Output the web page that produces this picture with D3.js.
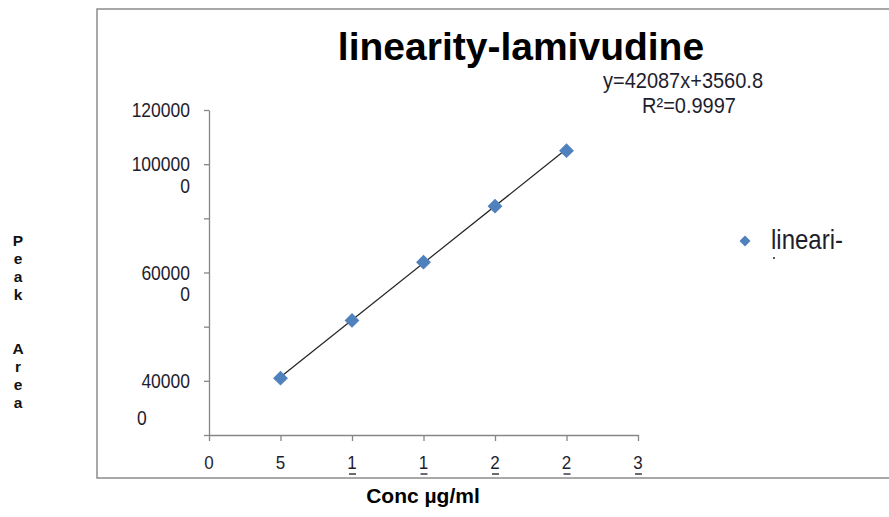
<!DOCTYPE html>
<html>
<head>
<meta charset="utf-8">
<script src="https://cdn.jsdelivr.net/npm/d3@7"></script>
<style>
    body { margin: 0; background: #fff; }
    svg { display: block; }
    text { font-family: "Liberation Sans", Arial, sans-serif; }
</style>
</head>
<body>
<svg id="chart" width="889" height="517"></svg>
<script>
// values
var concValues = [5, 10, 15, 20, 25];
var areaValues = [210000, 423000, 638000, 845000, 1050000];
var slope = 42087;
var intercept = 3560.8;

// axis ticks as the original chart printed them (labels got wrapped / clipped)
var xTickValues = [0, 5, 10, 15, 20, 25, 30];
var yTickValues = [1200000, 1000000, 800000, 600000, 400000, 200000, 0];
var yTickLines = [["120000"], ["100000", "0"], [], ["60000", "0"], [], ["40000", "0"], []];

var titleText = "linearity-lamivudine";
var equationText = "y=42087x+3560.8";
var rSquaredText = "R\u00b2=0.9997";
var legendText = "lineari-";
var xTitle = "Conc \u00b5g/ml";
var yTitle = "Peak  Area";

function initChart() {
    var svg = d3.select("#chart");
    var markerColor = "#4f81bd";
    var axisColor = "#868686";
    var labelColor = "#1e1e2e";
    var stretch = 1.12; // the source picture's text is a bit taller than wide

    var x = d3.scaleLinear().domain([0, 30]).range([209, 638]);
    var y = d3.scaleLinear().domain([0, 1200000]).range([435, 110]);

    function tallText(px, py, str, size, anchor) {
        return svg.append("text")
            .attr("transform", "translate(" + px + "," + py + ") scale(1," + stretch + ")")
            .attr("text-anchor", anchor)
            .attr("font-size", size)
            .attr("fill", labelColor)
            .text(str);
    }

    // outer chart frame, runs off the right edge
    svg.append("rect")
        .attr("x", 97).attr("y", 9)
        .attr("width", 820).attr("height", 469)
        .attr("fill", "#fff")
        .attr("stroke", "#8c8c8c")
        .attr("stroke-width", 1.5);

    svg.append("text")
        .attr("x", 521).attr("y", 60)
        .attr("text-anchor", "middle")
        .attr("font-size", 39)
        .attr("font-weight", "bold")
        .attr("fill", "#000")
        .text(titleText);

    // y axis
    var yAxis = svg.append("g")
        .attr("transform", "translate(" + x(0) + ",0)")
        .call(d3.axisLeft(y).tickValues(yTickValues).tickSize(5).tickSizeOuter(0).tickFormat(""));
    yAxis.selectAll("path, line").attr("stroke", axisColor).attr("stroke-width", 1.3);

    // the wrapped labels, first line sits on the tick
    var lineGap = [0, 22, 0, 21, 0, 37, 0];
    yTickValues.forEach(function (v, i) {
        yTickLines[i].forEach(function (t, j) {
            var left = (i === 5 && j === 1);
            tallText(left ? 137 : 190, y(v) + 7 + j * lineGap[i], t, 17.5, left ? "start" : "end");
        });
    });

    // x axis
    var xAxis = svg.append("g")
        .attr("transform", "translate(0," + y(0) + ")")
        .call(d3.axisBottom(x).tickValues(xTickValues).tickSize(6).tickSizeOuter(0).tickFormat(""));
    xAxis.selectAll("path, line").attr("stroke", axisColor).attr("stroke-width", 1.3);

    // only the first digit fits, the rest shows as a clipped stub below
    xTickValues.forEach(function (v) {
        var s = String(v);
        tallText(x(v), 469, s.charAt(0), 17, "middle");
        if (s.length > 1) {
            svg.append("line")
                .attr("x1", x(v) - 3).attr("x2", x(v) + 4)
                .attr("y1", 474).attr("y2", 474)
                .attr("stroke", "#3a3a4a")
                .attr("stroke-width", 1.5);
        }
    });

    // trendline from the fitted equation
    var xs = d3.extent(concValues);
    svg.append("line")
        .attr("x1", x(xs[0])).attr("y1", y(slope * xs[0] + intercept))
        .attr("x2", x(xs[1])).attr("y2", y(slope * xs[1] + intercept))
        .attr("stroke", "#222")
        .attr("stroke-width", 1.2);

    var diamond = d3.symbol().type(d3.symbolSquare).size(90);
    svg.selectAll(".pt")
        .data(concValues)
        .enter().append("path")
        .attr("class", "pt")
        .attr("d", diamond)
        .attr("transform", function (d, i) {
            return "translate(" + x(d) + "," + y(areaValues[i]) + ") rotate(45)";
        })
        .attr("fill", markerColor)
        .attr("stroke", markerColor)
        .attr("stroke-width", 1);

    tallText(683, 88, equationText, 20, "middle");
    tallText(689, 113, rSquaredText, 20, "middle");

    // legend
    svg.append("path")
        .attr("d", d3.symbol().type(d3.symbolSquare).size(60))
        .attr("transform", "translate(745,241) rotate(45)")
        .attr("fill", markerColor);
    tallText(771, 249, legendText, 24, "start");
    svg.append("circle")
        .attr("cx", 774).attr("cy", 258).attr("r", 1)
        .attr("fill", labelColor);

    svg.append("text")
        .attr("x", 423).attr("y", 503)
        .attr("text-anchor", "middle")
        .attr("font-size", 21)
        .attr("font-weight", "bold")
        .attr("fill", "#000")
        .text(xTitle);

    // vertical title, one letter per line
    svg.append("g").selectAll("text")
        .data(yTitle.split(""))
        .enter().append("text")
        .attr("x", 18)
        .attr("y", function (d, i) { return 246 + i * 18; })
        .attr("text-anchor", "middle")
        .attr("font-size", 15.5)
        .attr("font-weight", "bold")
        .attr("fill", "#111")
        .text(function (d) { return d; });
}

initChart();
</script>
</body>
</html>
